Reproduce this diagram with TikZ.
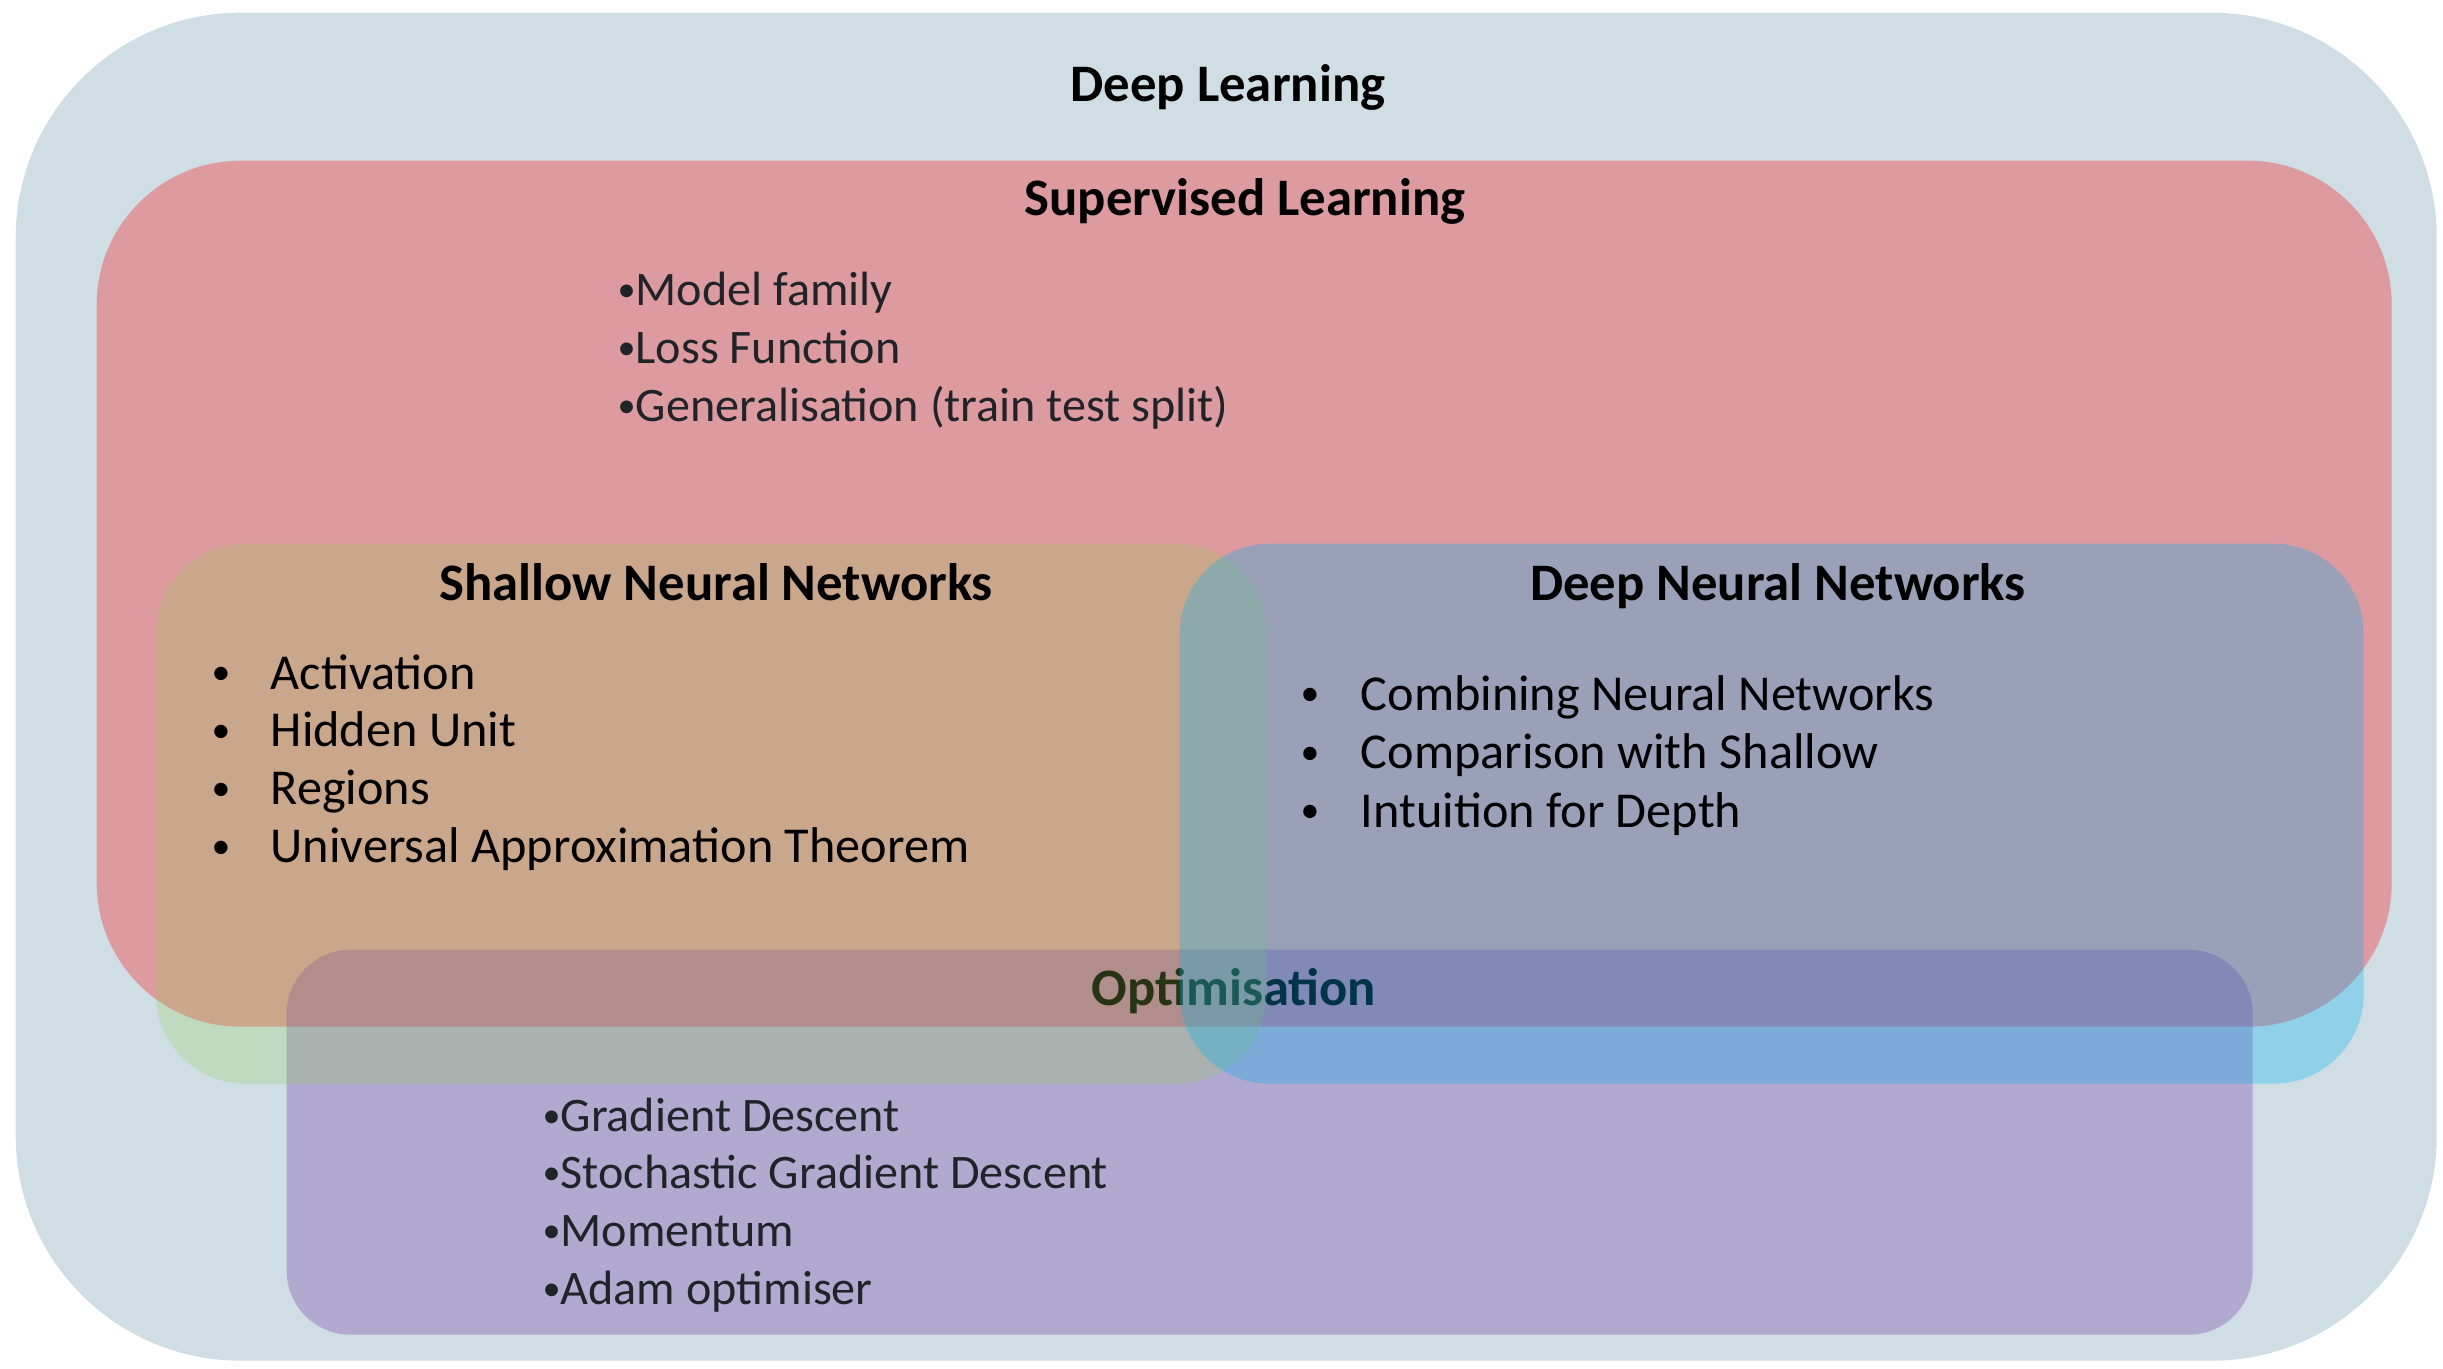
\documentclass[tikz,border=0pt]{standalone}
\usepackage{fontspec}
\usepackage{graphicx}
\setmainfont{Carlito}
\definecolor{dlgrey}{HTML}{CFDEE5}
\definecolor{suprd}{HTML}{FF0000}
\definecolor{shgreen}{HTML}{92D050}
\definecolor{dpblue}{HTML}{00B0F0}
\definecolor{oppurple}{HTML}{7030A0}
\definecolor{itemgrey}{HTML}{1F2428}
\newcommand\itembullet{\raisebox{0.08em}{\scalebox{0.75}{\textbullet}}}
\tikzset{
    area/.style={rectangle,rounded corners=#1,inner sep=0pt,anchor=north west},
    heading/.style={anchor=base,inner sep=0pt,font=\fontsize{15}{18}\selectfont\bfseries},
    listitem/.style={anchor=base west,inner sep=0pt,text=itemgrey,font=\fontsize{13.7}{16.5}\selectfont},
    tabitem/.style={anchor=base west,inner sep=0pt,text=black,font=\fontsize{14.3}{17}\selectfont}
}
\begin{document}
\begin{tikzpicture}
    \useasboundingbox (0,0) rectangle (24.43,-13.68);
    \fill[white] (0,0) rectangle (24.43,-13.68);
    %% deep learning
    \node[area=2.25cm,fill=dlgrey,minimum width=24.21cm,minimum height=13.48cm] (dl) at (0.15,-0.12) {};
    \node[heading] (dltitle) at (12.28,-1.01) {Deep Learning};
    %% supervised learning
    \node[area=1.44cm,fill=suprd,fill opacity=0.3,minimum width=22.95cm,minimum height=8.66cm] (sup) at (0.96,-1.60) {};
    %% optimisation (under the two network boxes)
    \node[area=0.64cm,fill=oppurple,fill opacity=0.3,minimum width=19.66cm,minimum height=3.85cm] (opt) at (2.86,-9.49) {};
    \node[heading] (opttitle) at (12.34,-10.05) {Optimisation};
    %% shallow and deep networks
    \node[area=0.9cm,fill=shgreen,fill opacity=0.25,minimum width=11.11cm,minimum height=5.40cm] (shallow) at (1.55,-5.43) {};
    \node[area=0.9cm,fill=dpblue,fill opacity=0.3,minimum width=11.84cm,minimum height=5.40cm] (deep) at (11.79,-5.43) {};
    %% texts
    \node[heading] (suptitle) at (12.45,-2.15) {Supervised Learning};
    \foreach \txt [count=\i from 0] in {Model family,Loss Function,Generalisation (train test split)}
        \node[listitem] (supitem\i) at (6.17,{-3.05-0.58*\i}) {\makebox[0.18cm][l]{\itembullet}\txt};
    \node[heading] (shtitle) at (7.16,-6.00) {Shallow Neural Networks};
    \foreach \txt [count=\i from 0] in {Activation,Hidden Unit,Regions,Universal Approximation Theorem}
        \node[tabitem] (shitem\i) at (2.11,{-6.89-0.578*\i}) {\makebox[0.59cm][l]{\itembullet}\txt};
    \node[heading] (dptitle) at (17.78,-6.00) {Deep Neural Networks};
    \foreach \txt [count=\i from 0] in {Combining Neural Networks,Comparison with Shallow,Intuition for Depth}
        \node[tabitem] (dpitem\i) at (13.00,{-7.10-0.585*\i}) {\makebox[0.60cm][l]{\itembullet}\txt};
    \foreach \txt [count=\i from 0] in {Gradient Descent,Stochastic Gradient Descent,Momentum,Adam optimiser}
        \node[listitem] (optitem\i) at (5.42,{-11.31-0.577*\i}) {\makebox[0.18cm][l]{\itembullet}\txt};
\end{tikzpicture}
\end{document}
